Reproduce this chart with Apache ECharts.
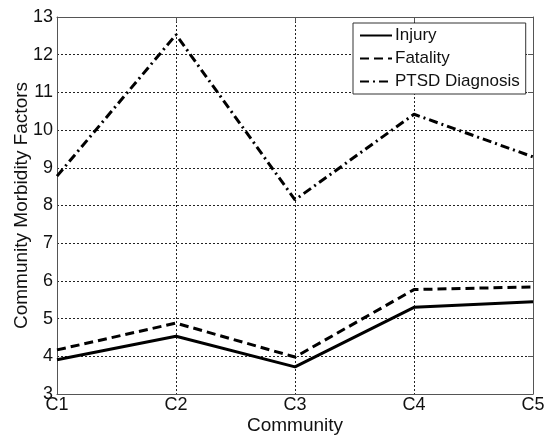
<!DOCTYPE html>
<html>
<head>
<meta charset="utf-8">
<script src="https://cdn.jsdelivr.net/npm/echarts@6/dist/echarts.min.js"></script>
<style>
  html, body { margin: 0; padding: 0; background: #fff; }
  #chart { width: 545px; height: 436px; }
</style>
</head>
<body>
<div id="chart"></div>
<script>
// Morbidity factors per community
const communities = ['C1', 'C2', 'C3', 'C4', 'C5'];
const injury   = [3.91, 4.53, 3.72, 5.30, 5.45];
const fatality = [4.17, 4.88, 3.98, 5.77, 5.84];
const ptsd     = [8.78, 12.53, 8.15, 10.42, 9.29];
const yTicks   = [3, 4, 5, 6, 7, 8, 9, 10, 11, 12, 13];

const FONT = 'Liberation Sans, Arial, sans-serif';
const INK = '#111';

function lineSeries(name, data, type) {
  return {
    name: name,
    type: 'line',
    data: data,
    symbol: 'none',
    showSymbol: false,
    animation: false,
    lineStyle: { color: '#000', width: 3, type: type },
    itemStyle: { color: '#000' }
  };
}

const chart = echarts.init(document.getElementById('chart'), null, { renderer: 'canvas' });
chart.setOption({
  backgroundColor: '#fff',
  animation: false,
  grid: { left: 57, right: 12, top: 17, bottom: 42, containLabel: false, outerBoundsMode: 'none' },
  legend: {
    orient: 'vertical',
    left: 353,
    top: 23,
    width: 177,
    padding: [4, 6, 4, 6],
    itemGap: 6,
    itemWidth: 32,
    itemHeight: 14,
    backgroundColor: '#fff',
    borderColor: '#333',
    borderWidth: 1,
    borderRadius: 0,
    itemStyle: { opacity: 0 },
    textStyle: { fontFamily: FONT, fontSize: 17, color: INK, padding: [0, 0, 0, -2] },
    data: ['Injury', 'Fatality', 'PTSD Diagnosis']
  },
  xAxis: [{
    type: 'category',
    data: communities,
    boundaryGap: false,
    name: 'Community',
    nameLocation: 'middle',
    nameGap: 22,
    nameMoveOverlap: false,
    nameTextStyle: { fontFamily: FONT, fontSize: 19, color: INK },
    axisLine: { show: true, lineStyle: { color: '#555', width: 1 } },
    axisTick: { show: false },
    axisLabel: { fontFamily: FONT, fontSize: 18, color: INK, margin: 2 },
    splitLine: { show: true, lineStyle: { color: '#222', width: 1, type: [2, 2] } }
  }, {
    type: 'category',
    data: communities,
    boundaryGap: false,
    position: 'top',
    axisLine: { show: true, lineStyle: { color: '#555', width: 1 } },
    axisTick: { show: true, inside: true, length: 5, lineStyle: { color: '#555' } },
    axisLabel: { show: false },
    splitLine: { show: false }
  }],
  yAxis: [{
    type: 'value',
    min: 3,
    max: 13,
    interval: 1,
    name: 'Community Morbidity Factors',
    nameLocation: 'middle',
    nameGap: 26,
    nameMoveOverlap: false,
    nameTextStyle: { fontFamily: FONT, fontSize: 19, color: INK },
    axisLine: { show: true, lineStyle: { color: '#555', width: 1 } },
    axisTick: { show: false },
    axisLabel: {
      fontFamily: FONT, fontSize: 18, color: INK, margin: 4,
      formatter: v => yTicks.includes(v) ? String(v) : ''
    },
    splitLine: { show: true, lineStyle: { color: '#222', width: 1, type: [2, 2] } }
  }, {
    type: 'value',
    min: 3,
    max: 13,
    interval: 1,
    position: 'right',
    axisLine: { show: true, lineStyle: { color: '#555', width: 1 } },
    axisTick: { show: true, inside: true, length: 5, lineStyle: { color: '#555' } },
    axisLabel: { show: false },
    splitLine: { show: false }
  }],
  series: [
    lineSeries('Injury', injury, 'solid'),
    lineSeries('Fatality', fatality, [9, 5]),
    lineSeries('PTSD Diagnosis', ptsd, [9, 4, 2, 4])
  ]
});
</script>
</body>
</html>
